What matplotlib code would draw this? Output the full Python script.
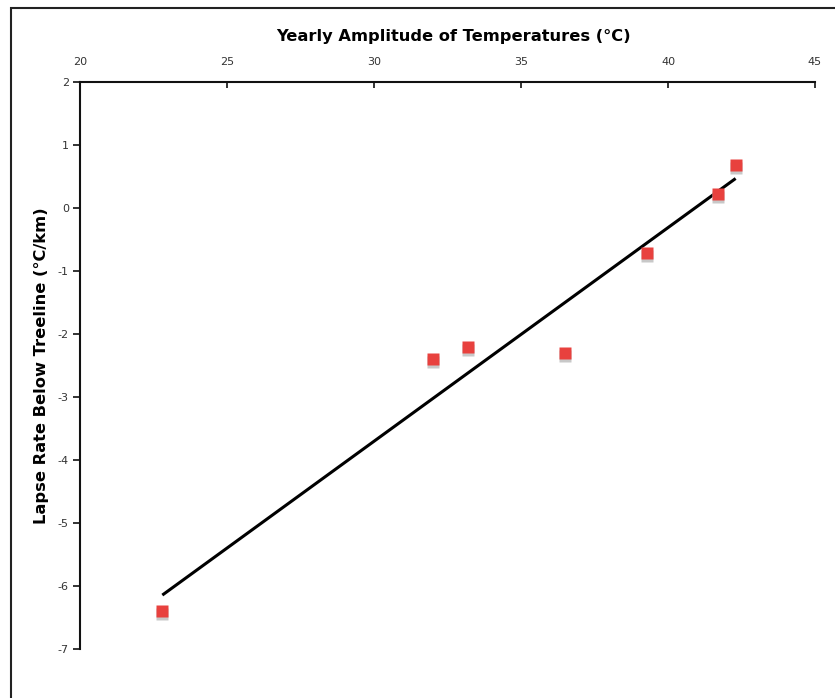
import matplotlib
matplotlib.use("Agg")
import matplotlib.pyplot as plt
import matplotlib.patches as patches
import matplotlib.transforms as mtransforms
import numpy as np

# data read from the plotted points
amplitude = [22.8, 32.0, 33.2, 36.5, 39.3, 41.7, 42.3]
lapse_rate = [-6.40, -2.40, -2.21, -2.30, -0.71, 0.23, 0.69]

x_ticks = [20, 25, 30, 35, 40, 45]
y_ticks = [2, 1, 0, -1, -2, -3, -4, -5, -6, -7]

plt.rcParams['font.family'] = ['DejaVu Sans']
plt.rcParams['axes.unicode_minus'] = False

fig = plt.figure(figsize=(8.35, 6.98), dpi=100, facecolor='white')
ax = fig.add_axes([80 / 835, 1 - 649 / 698, 735 / 835, 567 / 698])

# chart area border
frame = patches.Rectangle((11 / 835, -0.1), 1.2, 1 - 8 / 698 + 0.1,
                          transform=fig.transFigure, fill=False,
                          edgecolor='#222222', linewidth=1.5, zorder=0)
fig.patches.append(frame)

# trend line (least squares)
slope, inter = np.polyfit(amplitude, lapse_rate, 1)
xs = np.array([min(amplitude), max(amplitude)])
ax.plot(xs, slope * xs + inter, color='black', lw=2.2, zorder=2,
        solid_capstyle='butt')

# markers with drop shadow
shadow = mtransforms.offset_copy(ax.transData, fig=fig, x=0, y=-3, units='dots')
ax.plot(amplitude, lapse_rate, 's', ms=8.5, color='#c8c8c8', mec='none',
        transform=shadow, zorder=3)
ax.plot(amplitude, lapse_rate, 's', ms=8.5, color='#e8413e', mec='none',
        zorder=4)

ax.set_xlim(20, 45)
ax.set_ylim(-7, 2)
ax.set_xticks(x_ticks)
ax.set_yticks(y_ticks)
ax.xaxis.tick_top()
ax.xaxis.set_label_position('top')

for side in ['right', 'bottom']:
    ax.spines[side].set_visible(False)
for side in ['top', 'left']:
    ax.spines[side].set_linewidth(1.5)
    ax.spines[side].set_color('#111111')

ax.tick_params(axis='x', direction='in', length=4, width=1.2, pad=11,
               labelsize=8, colors='#111111', labelcolor='#333333')
ax.tick_params(axis='y', direction='out', length=5, width=1.2, pad=3,
               labelsize=8, colors='#111111', labelcolor='#333333')

ax.set_xlabel('Yearly Amplitude of Temperatures (°C)', fontsize=11.7,
              fontweight='bold', va='center')
ax.xaxis.set_label_coords(0.508, 1.081)
ax.set_ylabel('Lapse Rate Below Treeline (°C/km)', fontsize=11.7,
              fontweight='bold', labelpad=6)

fig.savefig('out.png', dpi=100)
